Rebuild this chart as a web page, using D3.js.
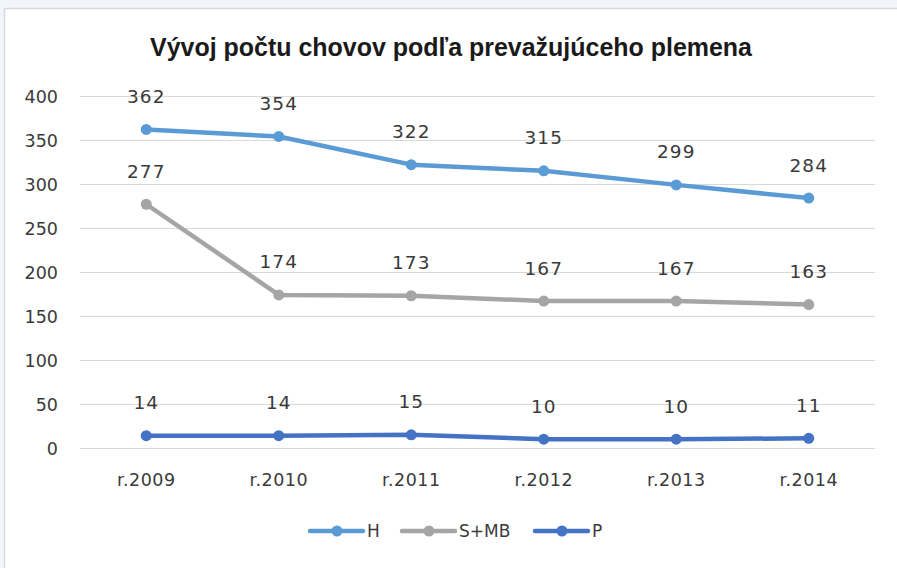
<!DOCTYPE html>
<html><head><meta charset="utf-8">
<script src="https://cdn.jsdelivr.net/npm/d3@7"></script>
<style>
html,body{margin:0;padding:0;background:#f2f6fa;}
svg{display:block;}
</style></head>
<body>
<svg id="chart" width="897" height="568"></svg>
<script>
const title = "Vývoj počtu chovov podľa prevažujúceho plemena";
const categories = ["r.2009","r.2010","r.2011","r.2012","r.2013","r.2014"];
const seriesNames = ["H","S+MB","P"];
const seriesColors = ["#5b9bd5","#a5a5a5","#4472c4"];
const valuesH = [362,354,322,315,299,284];
const valuesSMB = [277,174,173,167,167,163];
const valuesP = [14,14,15,10,10,11];
const yTicks = [0,50,100,150,200,250,300,350,400];

const series = [
  {name: seriesNames[0], color: seriesColors[0], values: valuesH},
  {name: seriesNames[1], color: seriesColors[1], values: valuesSMB},
  {name: seriesNames[2], color: seriesColors[2], values: valuesP}
];

const svg = d3.select("#chart");
svg.append("rect").attr("x",0).attr("y",0).attr("width",897).attr("height",568).attr("fill","#f2f6fa");
svg.append("rect").attr("x",5).attr("y",9).attr("width",892).attr("height",559).attr("fill","#ffffff");
svg.append("line").attr("x1",4.5).attr("x2",897).attr("y1",8.5).attr("y2",8.5).attr("stroke","#d6d9dc").attr("stroke-width",1.5);
svg.append("line").attr("x1",4.5).attr("x2",4.5).attr("y1",8.5).attr("y2",568).attr("stroke","#d6d9dc").attr("stroke-width",1.5);

const x = d3.scaleBand().domain(categories).range([80,875]);
const y = d3.scaleLinear().domain([0,400]).range([448,96]);

const font = "'DejaVu Sans', sans-serif";
const textColor = "#3a3a3a";

svg.append("text").attr("x",451).attr("y",56).attr("text-anchor","middle")
  .attr("font-family","'Liberation Sans Narrow','Liberation Sans',sans-serif")
  .attr("font-weight","bold").attr("font-size",25).attr("fill","#1a1a1a")
  .attr("textLength",602).attr("lengthAdjust","spacingAndGlyphs")
  .text(title);

svg.append("g").selectAll("line").data(yTicks).join("line")
  .attr("x1",80).attr("x2",875)
  .attr("y1",d=>Math.round(y(d))+0.5).attr("y2",d=>Math.round(y(d))+0.5)
  .attr("stroke","#d9d9d9").attr("stroke-width",1);

const yAxis = d3.axisLeft(y).tickValues(yTicks).tickSize(0).tickPadding(0);
const gy = svg.append("g").attr("transform","translate(58,0)").call(yAxis);
gy.select(".domain").remove();
gy.selectAll("text").attr("font-family",font).attr("font-size",17.5).attr("fill",textColor).attr("dy","0.35em");

const xAxis = d3.axisBottom(x).tickSize(0).tickPadding(0);
const gx = svg.append("g").attr("transform","translate(0,480)").call(xAxis);
gx.select(".domain").remove();
gx.selectAll("text").attr("font-family",font).attr("font-size",17.5).attr("letter-spacing",0.5).attr("fill",textColor).attr("dy","0.35em");

const cx = c => x(c) + x.bandwidth()/2;
const line = d3.line().x((d,i)=>cx(categories[i])).y(d=>y(d));

series.forEach(s => {
  const g = svg.append("g");
  g.append("path").attr("d",line(s.values)).attr("fill","none")
    .attr("stroke",s.color).attr("stroke-width",4.5).attr("stroke-linejoin","round").attr("stroke-linecap","round");
  g.selectAll("circle").data(s.values).join("circle")
    .attr("cx",(d,i)=>cx(categories[i])).attr("cy",d=>y(d)).attr("r",5.5).attr("fill",s.color);
  g.selectAll("text").data(s.values).join("text")
    .attr("x",(d,i)=>cx(categories[i])).attr("y",d=>y(d)-33)
    .attr("dy","0.35em").attr("text-anchor","middle")
    .attr("font-family",font).attr("font-size",18.5).attr("letter-spacing",1).attr("fill",textColor)
    .text(d=>d);
});

const legendX = [310,402,535];
const leg = svg.append("g");
series.forEach((s,i) => {
  const lx = legendX[i];
  leg.append("line").attr("x1",lx).attr("x2",lx+53).attr("y1",531).attr("y2",531)
    .attr("stroke",s.color).attr("stroke-width",4.5).attr("stroke-linecap","round");
  leg.append("circle").attr("cx",lx+27).attr("cy",531).attr("r",5.5).attr("fill",s.color);
  leg.append("text").attr("x",lx+57).attr("y",531).attr("dy","0.35em")
    .attr("font-family",font).attr("font-size",17).attr("fill",textColor).text(s.name);
});
</script>
</body></html>
